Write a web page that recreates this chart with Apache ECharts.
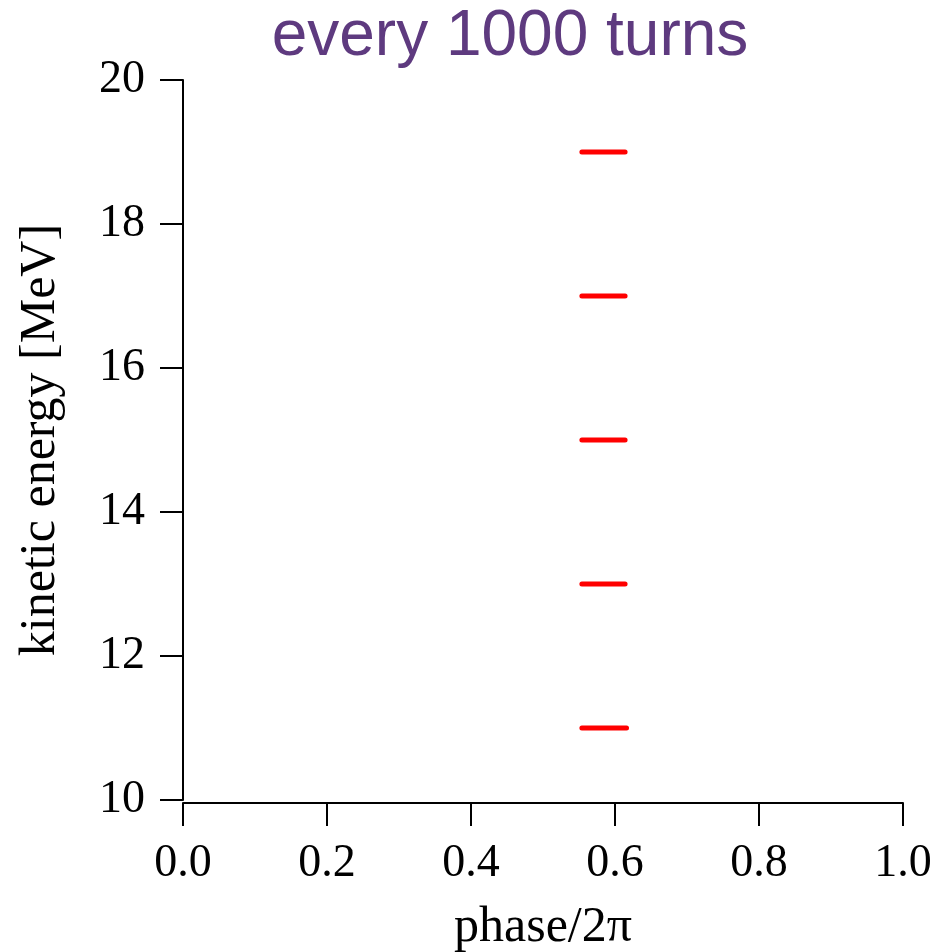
<!DOCTYPE html>
<html><head><meta charset="utf-8">
<script src="https://cdn.jsdelivr.net/npm/echarts@6/dist/echarts.min.js"></script>
<style>html,body{margin:0;padding:0;background:#fff}#c{width:941px;height:952px}</style>
</head><body><div id="c"></div>
<script>
const titleText = 'every 1000 turns';
const xName = 'phase/2π';
const yName = 'kinetic energy [MeV]';
const xTicks = [0.0, 0.2, 0.4, 0.6, 0.8, 1.0];
const yTicks = [10, 12, 14, 16, 18, 20];
// each bunch: phase range [start, end] at an energy level
const energies = [19, 17, 15, 13, 11];
const phaseStart = [0.554, 0.554, 0.554, 0.554, 0.554];
const phaseEnd = [0.614, 0.614, 0.614, 0.614, 0.616];

const chart = echarts.init(document.getElementById('c'), null, {renderer:'canvas'});
const serif = '"Liberation Serif", "Times New Roman", serif';
const series = energies.map((e, i) => ({
  type: 'line', symbol: 'none', silent: true,
  lineStyle: {color: '#ff0000', width: 5, cap: 'round'},
  data: [[phaseStart[i], e], [phaseEnd[i], e]]
}));
chart.setOption({
  animation: false,
  title: {text: titleText, left: 505, textAlign: 'center', top: 0,
    textStyle: {fontFamily: '"Liberation Sans", Arial, sans-serif', fontWeight: 'normal', fontSize: 64, color: '#5e3a7f'}},
  grid: {left: 183, right: 38, top: 80, bottom: 152, containLabel: false, outerBoundsMode: 'none'},
  xAxis: {type: 'value', min: 0, max: 1, interval: 0.2, offset: 3,
    name: xName, nameLocation: 'middle', nameGap: 100,
    nameTextStyle: {fontFamily: serif, fontSize: 50, color: '#000'},
    axisLine: {show: true, lineStyle: {color: '#000', width: 2}},
    axisTick: {show: true, inside: false, length: 23, lineStyle: {color: '#000', width: 2}},
    axisLabel: {margin: 38, fontFamily: serif, fontSize: 46, color: '#000', formatter: v => v.toFixed(1)},
    splitLine: {show: false}},
  yAxis: {type: 'value', min: 10, max: 20, interval: 2, offset: 3,
    name: yName, nameLocation: 'middle', nameGap: 114, nameRotate: 90,
    nameTextStyle: {fontFamily: serif, fontSize: 50, color: '#000'},
    axisLine: {show: true, lineStyle: {color: '#000', width: 2}},
    axisTick: {show: true, inside: false, length: 23, lineStyle: {color: '#000', width: 2}},
    axisLabel: {margin: 35, fontFamily: serif, fontSize: 46, color: '#000'},
    splitLine: {show: false}},
  series: series
});
</script></body></html>
